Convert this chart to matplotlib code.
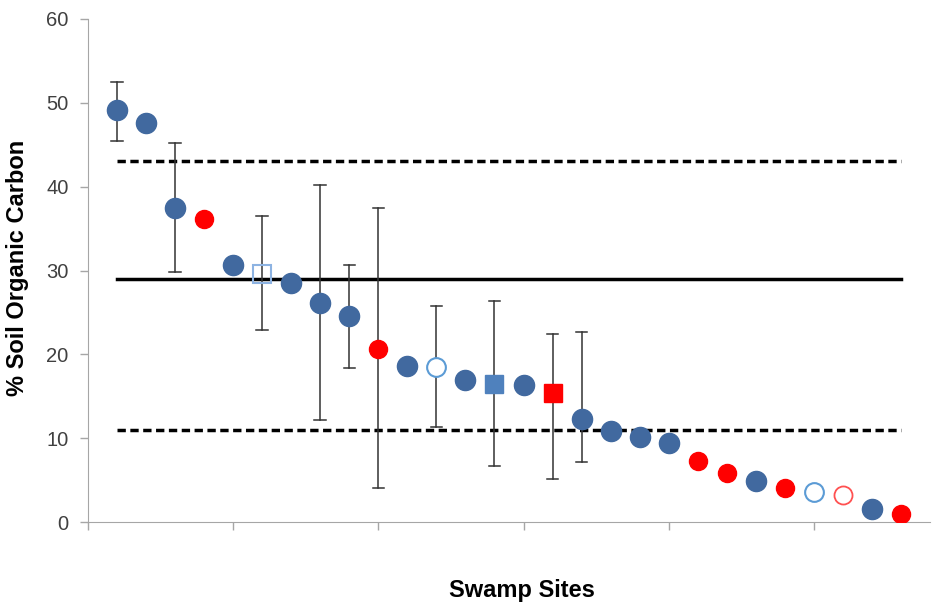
import matplotlib.pyplot as plt
import numpy as np

plt.rcParams["font.family"] = ["Liberation Sans", "DejaVu Sans"]

# site index 1..28 and % soil organic carbon
sites = np.arange(1, 29)
soc = [49.1, 47.6, 37.5, 36.1, 30.7, 29.6, 28.5, 26.1, 24.6, 20.6,
       18.6, 18.5, 16.9, 16.5, 16.4, 15.4, 12.3, 10.9, 10.1, 9.4,
       7.3, 5.8, 4.9, 4.0, 3.6, 3.2, 1.6, 1.0]
# marker group per site
kind = ["b", "b", "b", "r", "b", "bs_open", "b", "b", "b", "r",
        "b", "bo_open", "b", "bs", "b", "rs", "b", "b", "b", "b",
        "r", "r", "b", "r", "bo_open", "ro_open", "b", "r"]
# error bars: (site, low, high)
err_sites = [1, 3, 6, 8, 9, 10, 12, 14, 16, 17]
err_low = [45.5, 29.8, 22.9, 12.2, 18.4, 4.0, 11.3, 6.7, 5.1, 7.2]
err_high = [52.5, 45.2, 36.5, 40.2, 30.7, 37.4, 25.8, 26.4, 22.4, 22.7]

mean_val = 29.0
upper_val = 43.1
lower_val = 11.0

styles = {
    "b": dict(marker="o", ms=14.5, mfc="#41699F", mec="#41699F"),
    "r": dict(marker="o", ms=13, mfc="#FF0000", mec="#FF0000"),
    "bs": dict(marker="s", ms=13, mfc="#4F81BD", mec="#4F81BD"),
    "rs": dict(marker="s", ms=13, mfc="#FF0000", mec="#FF0000"),
    "bo_open": dict(marker="o", ms=13.5, mfc="white", mec="#5B9BD5", mew=1.5),
    "ro_open": dict(marker="o", ms=13, mfc="white", mec="#FF5050", mew=1.3),
    "bs_open": dict(marker="s", ms=13, mfc="none", mec="#8DB3E2", mew=1.5),
}

fig = plt.figure(figsize=(9.52, 6.04), dpi=100)
ax = fig.add_axes([88 / 952, 82 / 604, 842 / 952, 503 / 604])

dash = (0, (2.4, 1.3))
ax.plot(sites, [mean_val] * len(sites), color="black", lw=2.5, zorder=1)
ax.plot(sites, [upper_val] * len(sites), color="black", lw=2.5, ls=dash, zorder=1)
ax.plot(sites, [lower_val] * len(sites), color="black", lw=2.5, ls=dash, zorder=1)

for s, lo, hi in zip(err_sites, err_low, err_high):
    ax.plot([s, s], [lo, hi], color="#333333", lw=1.1, zorder=2)
    ax.plot([s - 0.2, s + 0.2], [lo, lo], color="#333333", lw=1.1, zorder=2)
    ax.plot([s - 0.2, s + 0.2], [hi, hi], color="#333333", lw=1.1, zorder=2)

for s, v, k in zip(sites, soc, kind):
    ax.plot(s, v, ls="none", zorder=3, **styles[k])

ax.set_xlim(0, 29)
ax.set_ylim(0, 60)
ax.set_yticks(range(0, 61, 10))
ax.set_xticks(range(0, 30, 5))
ax.set_xticklabels([])
for side in ["top", "right"]:
    ax.spines[side].set_visible(False)
for side in ["left", "bottom"]:
    ax.spines[side].set_color("#A6A6A6")
ax.tick_params(axis="both", colors="#A6A6A6", length=6, width=1)
ax.tick_params(axis="y", labelcolor="#404040", labelsize=14.5, pad=8)

fig.text(18 / 952, 1 - 268 / 604, "% Soil Organic Carbon", fontsize=17, fontweight="bold",
         rotation=90, ha="center", va="center")
fig.text(522 / 952, 1 - 590 / 604, "Swamp Sites", fontsize=17, fontweight="bold",
         ha="center", va="center")

fig.savefig("out.png", dpi=100)
